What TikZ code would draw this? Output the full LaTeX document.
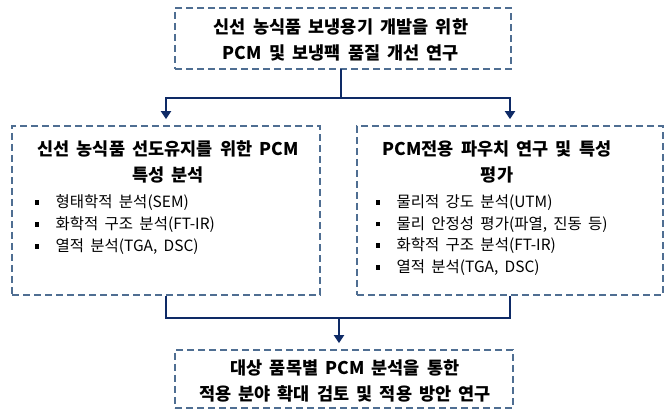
\documentclass[tikz,border=0pt]{standalone}
\usepackage{fontspec}
\setmainfont{Noto Sans CJK KR}[WordSpace=1.8]
\usetikzlibrary{arrows.meta}
\definecolor{bordc}{HTML}{4F6E92}
\definecolor{connc}{HTML}{0E2A66}
\begin{document}
\begin{tikzpicture}[x=1pt,y=-1pt,
  box/.style={draw=bordc, line width=1.8pt, dash pattern=on 7pt off 4pt, inner sep=0pt},
  ttl/.style={align=center, inner sep=0pt, font=\fontsize{17.5}{26}\selectfont\bfseries},
  itm/.style={anchor=west, inner sep=0pt, font=\fontsize{15.5}{18}\selectfont},
  conn/.style={draw=connc, line width=2.6pt},
  arr/.style={conn, -{Triangle[width=10pt,length=8pt]}, shorten >=6pt}]
\useasboundingbox (0,0) rectangle (667,411);
\newcommand{\bul}{\makebox[21pt][l]{\rule[3pt]{4.5pt}{4.5pt}}}
% boxes
\node[box, minimum width=336pt, minimum height=61pt] (top) at (343,38.5) {};
\node[box, minimum width=308pt, minimum height=169pt] (left) at (166,210.5) {};
\node[box, minimum width=306pt, minimum height=169pt] (right) at (510,210.5) {};
\node[box, minimum width=338pt, minimum height=58pt] (bottom) at (344,379) {};
% texts
\node[ttl] (toptxt) at (341,40) {신선 농식품 보냉용기 개발을 위한\\PCM 및 보냉팩 품질 개선 연구};
\node[ttl] (lefttl) at (168,162) {신선 농식품 선도유지를 위한 PCM\\특성 분석};
\node[ttl] (righttl) at (497,162) {PCM전용 파우치 연구 및 특성\\평가};
\node[ttl] (bottxt) at (345,381) {대상 품목별 PCM 분석을 통한\\적용 분야 확대 검토 및 적용 방안 연구};
\node[itm] (l1) at (34.5,203) {\bul 형태학적 분석(SEM)};
\node[itm] (l2) at (34.5,225) {\bul 화학적 구조 분석(FT-IR)};
\node[itm] (l3) at (34.5,247) {\bul 열적 분석(TGA, DSC)};
\node[itm] (r1) at (375.5,203) {\bul 물리적 강도 분석(UTM)};
\node[itm] (r2) at (375.5,224.5) {\bul 물리 안정성 평가(파열, 진동 등)};
\node[itm] (r3) at (375.5,246) {\bul 화학적 구조 분석(FT-IR)};
\node[itm] (r4) at (375.5,268) {\bul 열적 분석(TGA, DSC)};
% connectors
\coordinate (split) at (341,98);
\coordinate (join) at (339,318);
\draw[conn] (341,69) -- (split);
\draw[arr] (split) -| (left.north);
\draw[arr] (split) -| (right.north);
\draw[conn] (left.south) |- (join) -| (right.south);
\draw[arr] (join) -- (join |- bottom.north);
\end{tikzpicture}
\end{document}
